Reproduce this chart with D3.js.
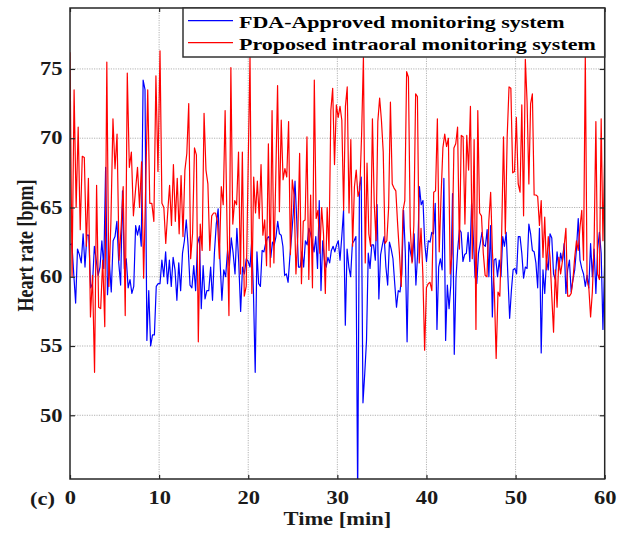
<!DOCTYPE html>
<html>
<head>
<meta charset="utf-8">
<script src="https://cdn.jsdelivr.net/npm/d3@7"></script>
<style>
  body { margin: 0; background: #fff; }
  svg { display: block; }
</style>
</head>
<body>
<div id="chart"></div>
<script>
// time span (min) covered by each block of readings
const blockSpans = [[0, 10.1], [10.1, 20.2], [20.2, 30.3], [30.3, 40.4], [40.4, 50.5], [50.5, 60]];

// FDA-approved system, heart rate [bpm], one array per block
const fda1 = [62.3, 62.4, 60.2, 58.1, 62.0, 61.6, 61.0, 63.1, 60.7, 63.0, 63.0, 59.2, 59.5, 62.2, 61.2, 60.1,
  60.7, 62.6, 60.6, 67.9, 58.7, 61.0, 58.9, 62.6, 62.9, 64.0, 61.0, 59.4, 66.2, 60.6, 61.3, 59.2,
  59.8, 58.8, 59.3, 63.7, 63.0, 63.7, 62.2, 74.2, 73.5, 55.4, 59.0, 55.0, 55.8, 55.8, 59.3, 59.5];
const fda2 = [59.5, 61.2, 60.0, 61.8, 59.5, 61.2, 59.3, 61.4, 60.5, 58.3, 61.0, 59.0, 61.7, 62.6, 64.1, 62.2,
  59.4, 59.2, 60.8, 59.0, 62.4, 62.9, 57.7, 60.8, 58.4, 59.0, 59.0, 60.7, 58.3, 61.7, 63.8, 64.9,
  61.2, 58.3, 60.5, 60.0, 61.9, 60.8, 62.8, 61.7, 60.2, 63.5, 61.0, 57.5, 60.7, 60.2, 61.3, 61.1];
const fda3 = [60.7, 62.6, 58.8, 53.1, 61.8, 59.5, 59.3, 61.9, 61.8, 62.4, 62.8, 62.9, 61.4, 62.5, 62.3, 62.9,
  64.0, 63.1, 63.0, 62.2, 60.1, 60.2, 59.6, 61.4, 62.9, 64.6, 66.9, 64.1, 60.7, 60.7, 61.8, 60.7,
  62.6, 62.3, 63.5, 63.1, 62.5, 61.8, 62.9, 60.6, 65.5, 59.0, 62.6, 61.2, 60.7, 61.4, 61.0, 61.9,
  62.2, 61.8, 62.3, 62.6];
const fda4 = [61.2, 62.9, 64.8, 56.5, 62.0, 60.7, 60.0, 62.4, 62.6, 62.9, 44.0, 66.5, 67.2, 50.9, 53.0, 55.4,
  61.7, 60.6, 62.3, 62.3, 61.2, 65.2, 58.4, 61.6, 62.3, 62.9, 60.7, 59.4, 62.5, 62.0, 61.3, 59.5,
  57.8, 59.0, 58.9, 60.2, 64.8, 61.7, 55.3, 62.5, 61.7, 61.1, 63.1, 59.4, 61.7, 66.5, 65.2, 65.5,
  62.4, 61.1, 62.6];
const fda5 = [62.5, 63.2, 63.1, 65.3, 56.2, 60.7, 61.3, 60.5, 67.1, 55.4, 59.4, 57.7, 59.4, 66.0, 54.4, 59.9,
  62.0, 63.4, 63.2, 61.1, 61.6, 61.7, 63.2, 61.1, 65.3, 62.9, 60.0, 59.5, 61.7, 62.4, 63.2, 62.3,
  62.2, 63.4, 60.0, 63.7, 57.1, 61.2, 61.3, 60.0, 61.2, 60.0, 62.9, 62.2, 63.2, 60.0, 57.0, 59.0,
  60.5, 60.6, 60.2, 62.9];
const fda6 = [62.9, 61.7, 59.9, 60.7, 60.6, 63.8, 63.1, 61.9, 61.8, 61.0, 59.2, 63.5, 54.5, 60.5, 58.8, 61.2,
  60.5, 63.1, 62.8, 60.2, 59.8, 61.8, 60.5, 61.7, 61.1, 62.4, 58.8, 60.5, 61.2, 58.9, 59.8, 60.5,
  62.0, 64.2, 61.2, 60.6, 60.2, 59.3, 60.1, 59.2, 62.4, 60.0, 62.0, 58.8, 62.0, 63.2, 61.7, 56.2, 61.2];

// proposed intraoral system, heart rate [bpm]
const prop1 = [76.2, 60.0, 73.5, 65.0, 70.8, 63.4, 68.7, 68.6, 62.2, 67.1, 57.1, 60.1, 53.1, 66.6, 57.8, 57.7,
  61.2, 56.4, 75.5, 59.3, 64.0, 71.4, 67.8, 70.3, 61.2, 63.6, 66.5, 57.2, 74.7, 67.9, 69.0, 64.4,
  66.2, 67.9, 65.0, 68.3, 59.9, 66.5, 73.5, 65.3, 65.3, 64.0, 74.5, 67.6];
const prop2 = [76.3, 65.3, 65.0, 62.4, 64.6, 66.6, 63.7, 68.1, 64.0, 67.1, 63.1, 67.3, 62.9, 67.7, 68.9, 72.5,
  61.3, 63.1, 69.3, 68.8, 55.3, 63.8, 61.9, 71.8, 67.7, 66.7, 61.9, 64.4, 64.6, 64.6, 64.0, 61.3,
  66.5, 65.2, 72.0, 63.7, 57.2, 75.1, 63.8, 65.5, 65.2, 69.0, 60.2, 69.0, 58.6, 59.3, 67.7];
const prop3 = [75.9, 58.8, 67.2, 64.6, 66.9, 64.2, 68.1, 63.0, 64.1, 60.8, 69.6, 60.7, 72.0, 61.0, 67.0, 73.8,
  64.7, 71.3, 67.0, 67.8, 67.2, 71.2, 61.6, 67.0, 65.9, 60.2, 62.9, 68.9, 59.5, 64.0, 64.1, 70.1,
  59.8, 65.9, 59.2, 74.2, 64.2, 64.8, 61.7, 65.0, 63.1, 58.8, 65.0, 61.9, 72.0, 73.6, 68.1, 72.4, 71.5];
const prop4 = [72.3, 71.3, 64.8, 72.3, 73.7, 64.6, 69.9, 62.2, 66.5, 67.7, 65.8, 66.3, 70.3, 75.9, 61.0, 68.2,
  63.1, 62.2, 71.4, 65.3, 62.6, 71.2, 72.9, 71.3, 69.0, 62.4, 62.6, 65.0, 72.6, 66.7, 66.4, 66.2,
  63.8, 61.7, 59.3, 64.8, 65.5, 74.8, 74.4, 63.6, 61.0, 63.7, 73.2, 73.0, 61.0, 63.5, 60.2, 54.7, 59.2, 59.5];
const prop5 = [59.6, 59.0, 66.1, 66.2, 71.4, 61.8, 65.8, 69.3, 70.3, 69.4, 70.0, 60.2, 61.7, 69.3, 69.6, 70.8,
  62.0, 70.2, 70.1, 63.8, 70.2, 67.7, 72.3, 61.3, 69.9, 56.2, 72.0, 64.6, 64.4, 61.7, 60.1, 60.0,
  64.0, 66.1, 61.7, 59.0, 54.1, 58.9, 58.6, 63.1, 70.1, 63.1, 70.1, 73.7, 73.6, 67.5, 67.6, 71.5, 66.7];
const prop6 = [66.1, 72.4, 64.4, 75.7, 72.6, 66.7, 72.5, 73.2, 65.9, 65.9, 65.8, 63.7, 65.5, 61.4, 64.3, 60.5,
  62.9, 61.4, 58.6, 56.0, 60.5, 57.8, 61.4, 60.2, 61.1, 62.2, 63.5, 58.6, 58.6, 58.8, 59.8, 61.4,
  62.6, 61.9, 63.6, 64.8, 61.2, 76.0, 59.8, 59.2, 57.1, 58.9, 62.4, 71.2, 60.2, 59.8, 71.4, 62.6, 68.9];

const xTicks = [0, 10, 20, 30, 40, 50, 60];
const yTicks = [50, 55, 60, 65, 70, 75];
const seriesNames = ["FDA-Approved monitoring system", "Proposed intraoral monitoring system"];
const seriesColors = ["#0000ff", "#ff0000"];

const fontFam = "'Liberation Serif', 'Times New Roman', serif";
const stretch = "scale(1.25,1)"; // the figure's text is widened horizontally

function toPoints(blocks) {
  var pts = [];
  blocks.forEach(function(vals, k) {
    var a = blockSpans[k][0], b = blockSpans[k][1];
    var last = k === blocks.length - 1;
    var step = (b - a) / (last ? vals.length - 1 : vals.length);
    vals.forEach(function(v, i) { pts.push([a + i * step, v]); });
  });
  return pts;
}

var series = [
  toPoints([fda1, fda2, fda3, fda4, fda5, fda6]),
  toPoints([prop1, prop2, prop3, prop4, prop5, prop6])
];

var margin = {top: 8, right: 33.3, bottom: 54, left: 70};
var W = 638, H = 533;
var width = W - margin.left - margin.right;
var height = H - margin.top - margin.bottom;

var svg = d3.select("#chart")
  .append("svg")
  .attr("width", W)
  .attr("height", H)
  .append("g")
  .attr("transform", "translate(" + margin.left + "," + margin.top + ")");

var x = d3.scaleLinear().domain([0, 60]).range([0, width]);
var y = d3.scaleLinear().domain([45.4, 79.4]).range([height, 0]);

// grid
svg.append("g").selectAll("line")
  .data(xTicks.slice(1, -1))
  .join("line")
  .attr("x1", d => x(d)).attr("x2", d => x(d))
  .attr("y1", 0).attr("y2", height)
  .attr("stroke", "#b3b3b3").attr("stroke-dasharray", "1.2,1.2");
svg.append("g").selectAll("line")
  .data(yTicks)
  .join("line")
  .attr("x1", 0).attr("x2", width)
  .attr("y1", d => y(d)).attr("y2", d => y(d))
  .attr("stroke", "#b3b3b3").attr("stroke-dasharray", "1.2,1.2");

svg.append("clipPath").attr("id", "clip")
  .append("rect").attr("width", width).attr("height", height);

var line = d3.line()
  .x(d => x(d[0]))
  .y(d => y(d[1]));

series.forEach(function(pts, i) {
  svg.append("path")
    .attr("clip-path", "url(#clip)")
    .attr("fill", "none")
    .attr("stroke", seriesColors[i])
    .attr("stroke-width", 1.2)
    .attr("stroke-linejoin", "round")
    .attr("d", line(pts));
});

// axes with inward ticks
function styleAxis(g) {
  g.select(".domain").remove();
  g.selectAll("line").attr("stroke", "#262626").attr("stroke-width", 1.2);
  g.selectAll("text")
    .attr("fill", "#1a1a1a")
    .attr("font-family", fontFam)
    .attr("font-weight", "bold")
    .attr("font-size", 18)
    .attr("transform", stretch);
}

svg.append("g")
  .attr("transform", "translate(0," + height + ")")
  .call(d3.axisBottom(x).tickValues(xTicks).tickSizeInner(-4).tickSizeOuter(0).tickPadding(12.5))
  .call(styleAxis);
svg.append("g")
  .call(d3.axisTop(x).tickValues(xTicks).tickSizeInner(-4).tickSizeOuter(0).tickFormat(""))
  .call(styleAxis);
svg.append("g")
  .call(d3.axisLeft(y).tickValues(yTicks).tickSizeInner(-5).tickSizeOuter(0).tickPadding(6))
  .call(styleAxis);
svg.append("g")
  .attr("transform", "translate(" + width + ",0)")
  .call(d3.axisRight(y).tickValues(yTicks).tickSizeInner(-5).tickSizeOuter(0).tickFormat(""))
  .call(styleAxis);

// box
svg.append("rect")
  .attr("width", width).attr("height", height)
  .attr("fill", "none").attr("stroke", "#262626").attr("stroke-width", 1.5);

// labels
svg.append("text")
  .attr("transform", "translate(" + (width / 2) + "," + (height + 46) + ") " + stretch)
  .attr("text-anchor", "middle")
  .attr("font-family", fontFam).attr("font-weight", "bold").attr("font-size", 18)
  .attr("fill", "#1a1a1a")
  .text("Time [min]");

svg.append("text")
  .attr("transform", "translate(-37.5," + (height / 2 + 2) + ") " + stretch + " rotate(-90)")
  .attr("text-anchor", "middle")
  .attr("font-family", fontFam).attr("font-weight", "bold").attr("font-size", 18)
  .attr("fill", "#1a1a1a")
  .text("Heart rate [bpm]");

svg.append("text")
  .attr("transform", "translate(-40," + (height + 25.5) + ") " + stretch)
  .attr("font-family", fontFam).attr("font-weight", "bold").attr("font-size", 18)
  .attr("fill", "#1a1a1a")
  .text("(c)");

// legend
var legend = svg.append("g").attr("transform", "translate(" + (183 - margin.left) + ",0)");
legend.append("rect")
  .attr("width", width - (183 - margin.left)).attr("height", 49)
  .attr("fill", "#fff").attr("stroke", "#333").attr("stroke-width", 1.5);
seriesNames.forEach(function(name, i) {
  var ly = 12.7 + i * 22;
  legend.append("line")
    .attr("x1", 5).attr("x2", 50)
    .attr("y1", ly).attr("y2", ly)
    .attr("stroke", seriesColors[i]).attr("stroke-width", 1.2);
  legend.append("text")
    .attr("transform", "translate(56," + (ly + 7.6) + ") " + stretch)
    .attr("font-family", fontFam).attr("font-weight", "bold").attr("font-size", 17.6)
    .attr("fill", "#000")
    .text(name);
});
</script>
</body>
</html>
